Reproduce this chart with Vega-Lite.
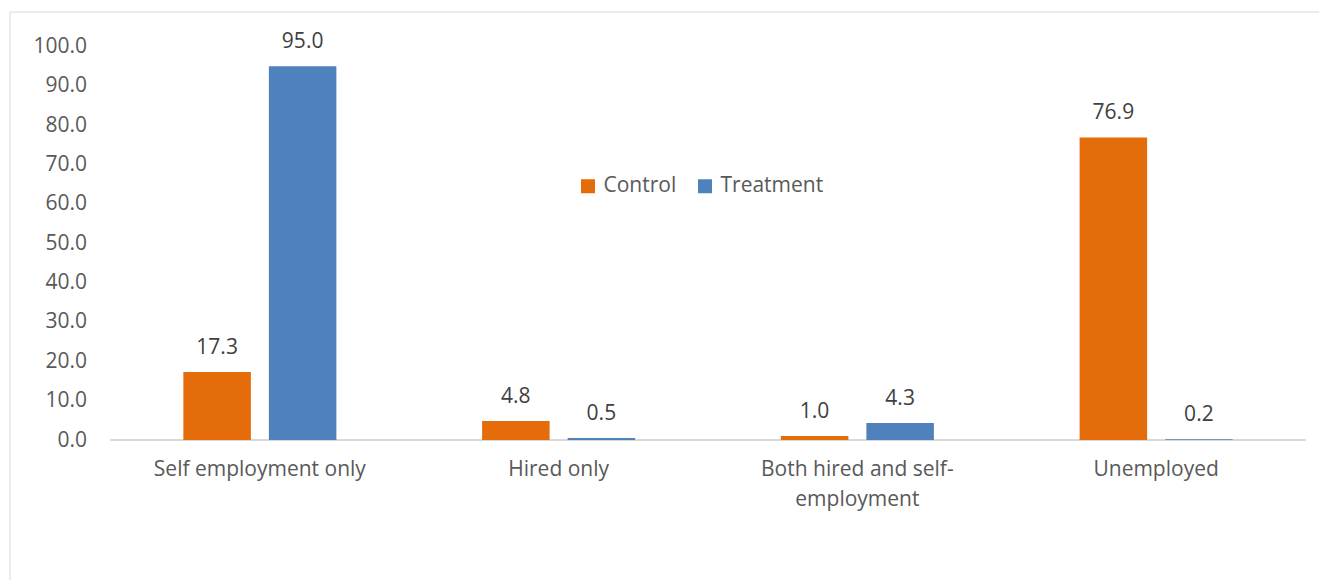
{
  "$schema": "https://vega.github.io/schema/vega-lite/v6.json",
  "autosize": {"type": "none"},
  "padding": {"left": 9.5, "top": 11.5, "right": 0, "bottom": 0},
  "width": 1320,
  "height": 580,
  "background": "#ffffff",
  "config": {
    "font": "Open Sans",
    "view": {"stroke": "#D9D9D9", "strokeWidth": 1},
    "axis": {"grid": false, "labelFont": "Open Sans", "labelFontSize": 21, "labelColor": "#595959"}
  },
  "data": {
    "values": [
      {"category": "Self employment only", "group": "Control", "value": 17.3},
      {"category": "Self employment only", "group": "Treatment", "value": 95.0},
      {"category": "Hired only", "group": "Control", "value": 4.8},
      {"category": "Hired only", "group": "Treatment", "value": 0.5},
      {"category": "Both hired and self-employment", "group": "Control", "value": 1.0},
      {"category": "Both hired and self-employment", "group": "Treatment", "value": 4.3},
      {"category": "Unemployed", "group": "Control", "value": 76.9},
      {"category": "Unemployed", "group": "Treatment", "value": 0.2}
    ]
  },
  "encoding": {
    "x": {
      "field": "category",
      "type": "nominal",
      "sort": null,
      "scale": {
        "domain": ["Self employment only", "Hired only", "Both hired and self-employment", "Unemployed"],
        "paddingInner": 0,
        "paddingOuter": 0.2092,
        "align": 0.808
      },
      "axis": {
        "title": null,
        "orient": "bottom",
        "offset": -151.7,
        "domain": false,
        "ticks": false,
        "labelAngle": 0,
        "labelPadding": 19,
        "labelLineHeight": 30,
        "labelBaseline": "top",
        "labelLimit": 400,
        "labelExpr": "datum.label == 'Both hired and self-employment' ? ['Both hired and self-', 'employment'] : datum.label"
      }
    },
    "xOffset": {
      "field": "group",
      "type": "nominal",
      "scale": {"domain": ["Control", "Treatment"], "paddingInner": 0.2105, "paddingOuter": 0.852}
    },
    "y": {
      "field": "value",
      "type": "quantitative",
      "scale": {"domain": [-38.5, 108.9], "nice": false, "zero": false},
      "axis": {
        "title": null,
        "orient": "left",
        "offset": -77,
        "domain": false,
        "ticks": false,
        "labelPadding": 0,
        "values": [0, 10, 20, 30, 40, 50, 60, 70, 80, 90, 100],
        "format": ".1f"
      }
    }
  },
  "layer": [
    {
      "mark": {"type": "rule", "color": "#D9D9D9", "strokeWidth": 2},
      "encoding": {
        "x": {"datum": "Self employment only", "bandPosition": 0},
        "x2": {"datum": "Unemployed", "bandPosition": 1},
        "xOffset": {"value": 0},
        "y": {"datum": 0}
      }
    },
    {
      "mark": {"type": "bar"},
      "encoding": {
        "y2": {"datum": 0},
        "color": {
          "field": "group",
          "type": "nominal",
          "scale": {"domain": ["Control", "Treatment"], "range": ["#E46C0A", "#4F81BD"]},
          "legend": {
            "title": null,
            "orient": "none",
            "direction": "horizontal",
            "legendX": 568,
            "legendY": 164,
            "symbolType": "square",
            "symbolSize": 196,
            "symbolStrokeWidth": 0,
            "labelFontSize": 21,
            "labelColor": "#595959",
            "labelOffset": 5,
            "columnPadding": 18
          }
        }
      }
    },
    {
      "mark": {"type": "text", "baseline": "alphabetic", "dy": -18, "fontSize": 21, "color": "#404040"},
      "encoding": {
        "text": {"field": "value", "type": "quantitative", "format": ".1f"}
      }
    }
  ]
}
